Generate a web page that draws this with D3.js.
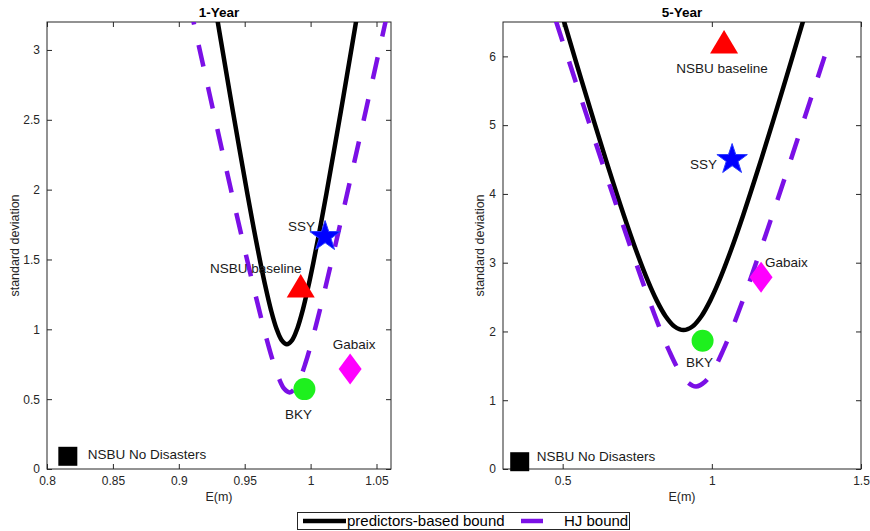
<!DOCTYPE html>
<html>
<head>
<meta charset="utf-8">
<script src="https://cdn.jsdelivr.net/npm/d3@7"></script>
<style>
  body { margin: 0; background: #fff; }
  svg { font-family: "Liberation Sans", Arial, sans-serif; }
</style>
</head>
<body>
<script>
// curves, as [E(m), standard deviation]
const predBound1Y = [
  [0.9275, 3.316], [0.932, 3.063], [0.939, 2.673], [0.946, 2.291], [0.952, 1.972], [0.957, 1.716],
  [0.962, 1.473], [0.966, 1.295], [0.970, 1.136], [0.974, 1.008], [0.978, 0.923], [0.982, 0.893],
  [0.986, 0.923], [0.990, 1.008], [0.994, 1.136], [0.998, 1.295], [1.002, 1.473], [1.007, 1.716],
  [1.012, 1.972], [1.018, 2.291], [1.025, 2.673], [1.032, 3.063], [1.0365, 3.316]
];
const hjBound1Y = [
  [0.908, 3.336], [0.913, 3.123], [0.923, 2.698], [0.933, 2.275], [0.942, 1.899], [0.950, 1.571],
  [0.957, 1.291], [0.963, 1.062], [0.968, 0.883], [0.972, 0.755], [0.976, 0.648], [0.980, 0.574],
  [0.984, 0.548], [0.988, 0.574], [0.992, 0.648], [0.996, 0.755], [1.000, 0.883], [1.005, 1.062],
  [1.011, 1.291], [1.018, 1.571], [1.026, 1.899], [1.035, 2.275], [1.045, 2.698], [1.055, 3.123],
  [1.060, 3.336]
];
const predBound5Y = [
  [0.485, 6.795], [0.545, 5.916], [0.605, 5.055], [0.655, 4.358], [0.705, 3.691], [0.745, 3.192],
  [0.785, 2.742], [0.815, 2.452], [0.845, 2.222], [0.875, 2.072], [0.905, 2.02], [0.935, 2.072],
  [0.965, 2.222], [0.995, 2.452], [1.025, 2.742], [1.065, 3.192], [1.105, 3.691], [1.155, 4.358],
  [1.205, 5.055], [1.265, 5.916], [1.325, 6.795]
];
const hjBound5Y = [
  [0.477, 6.521], [0.527, 5.852], [0.587, 5.055], [0.647, 4.264], [0.697, 3.615], [0.747, 2.98],
  [0.787, 2.49], [0.827, 2.029], [0.857, 1.717], [0.887, 1.452], [0.917, 1.268], [0.947, 1.2],
  [0.977, 1.268], [1.007, 1.452], [1.037, 1.717], [1.067, 2.029], [1.107, 2.49], [1.147, 2.98],
  [1.197, 3.615], [1.247, 4.264], [1.307, 5.055], [1.367, 5.852], [1.393, 6.2]
];

const modelNames = ['NSBU No Disasters', 'NSBU baseline', 'SSY', 'BKY', 'Gabaix'];
const modelShapes = ['square', 'triangle', 'star', 'circle', 'diamond'];
const modelColors = ['#000000', '#ff0000', '#0000ff', '#1ef01e', '#ff00ff'];
const models1Y = [[0.8158, 0.091], [0.9925, 1.31], [1.011, 1.664], [0.9953, 0.572], [1.030, 0.715]];
const models5Y = [[0.356, 0.106], [1.041, 6.21], [1.068, 4.50], [0.969, 1.864], [1.165, 2.79]];

const xTicks1Y = [0.8, 0.85, 0.9, 0.95, 1, 1.05];
const yTicks1Y = [0, 0.5, 1, 1.5, 2, 2.5, 3];
const xTicks5Y = [0.5, 1, 1.5];
const yTicks5Y = [0, 1, 2, 3, 4, 5, 6];

const legendNames = ['predictors-based bound', 'HJ bound'];

const width = 870, height = 531;
const axisColor = '#262626';
const hjColor = '#7b10e6';

const svg = d3.select('body').append('svg')
  .attr('width', width)
  .attr('height', height);

// label offsets from their marker (dx, dy, anchor) for each panel
const labelPos1Y = [[20, -2, 'start'], [-45, -18, 'middle'], [-10, -10, 'end'], [-6, 25, 'middle'], [4, -25, 'middle']];
const labelPos5Y = [[17, -5, 'start'], [-2, 26, 'middle'], [-15, 5, 'end'], [-3, 21, 'middle'], [4, -15, 'start']];

const panels = [
  { id: 'p1', title: '1-Year', x0: 47, x1: 391, xDom: [0.8, 1.061], yDom: [0, 3.2],
    xTicks: xTicks1Y, yTicks: yTicks1Y, pred: predBound1Y, hj: hjBound1Y,
    models: models1Y, labels: labelPos1Y, ylabX: 15 },
  { id: 'p2', title: '5-Year', x0: 503, x1: 861, xDom: [0.3, 1.5], yDom: [0, 6.5],
    xTicks: xTicks5Y, yTicks: yTicks5Y, pred: predBound5Y, hj: hjBound5Y,
    models: models5Y, labels: labelPos5Y, ylabX: 480 }
];
const plotTop = 22, plotBottom = 469;

const fmt = d => String(d);

function markerPath(shape) {
  if (shape === 'square') return 'M-9.5,-9.5H9.5V9.5H-9.5Z';
  if (shape === 'triangle') return 'M0,-12L14,11.5H-14Z';
  if (shape === 'diamond') return 'M0,-15.5L11.5,0L0,15.5L-11.5,0Z';
  if (shape === 'circle') return d3.symbol(d3.symbolCircle, Math.PI * 11 * 11)();
  // five point star
  const pts = [];
  for (let i = 0; i < 10; i++) {
    const r = i % 2 ? 6.2 : 16;
    const a = -Math.PI / 2 + i * Math.PI / 5;
    pts.push([r * Math.cos(a), r * Math.sin(a)]);
  }
  return 'M' + pts.map(p => p.join(',')).join('L') + 'Z';
}

panels.forEach(p => {
  const x = d3.scaleLinear().domain(p.xDom).range([p.x0, p.x1]);
  const y = d3.scaleLinear().domain(p.yDom).range([plotBottom, plotTop]);
  const g = svg.append('g');

  g.append('clipPath').attr('id', 'clip-' + p.id)
    .append('rect')
    .attr('x', p.x0).attr('y', plotTop)
    .attr('width', p.x1 - p.x0).attr('height', plotBottom - plotTop);

  // axes on all four sides, ticks pointing in
  const axB = g.append('g').attr('transform', `translate(0,${plotBottom})`)
    .call(d3.axisBottom(x).tickValues(p.xTicks).tickFormat(fmt).tickSizeInner(-5).tickSizeOuter(0).tickPadding(7));
  const axT = g.append('g').attr('transform', `translate(0,${plotTop})`)
    .call(d3.axisTop(x).tickValues(p.xTicks).tickFormat('').tickSizeInner(-5).tickSizeOuter(0));
  const axL = g.append('g').attr('transform', `translate(${p.x0},0)`)
    .call(d3.axisLeft(y).tickValues(p.yTicks).tickFormat(fmt).tickSizeInner(-5).tickSizeOuter(0).tickPadding(7));
  const axR = g.append('g').attr('transform', `translate(${p.x1},0)`)
    .call(d3.axisRight(y).tickValues(p.yTicks).tickFormat('').tickSizeInner(-5).tickSizeOuter(0));
  [axB, axT, axL, axR].forEach(a => {
    a.select('.domain').remove();
    a.selectAll('line').attr('stroke', axisColor);
    a.selectAll('text').attr('fill', axisColor).style('font-size', '12px');
  });
  g.append('rect')
    .attr('x', p.x0).attr('y', plotTop)
    .attr('width', p.x1 - p.x0).attr('height', plotBottom - plotTop)
    .attr('fill', 'none').attr('stroke', axisColor).attr('stroke-width', 1);

  const line = d3.line()
    .x(d => x(d[0]))
    .y(d => y(d[1]))
    .curve(d3.curveCatmullRom.alpha(0.5));

  const curves = g.append('g').attr('clip-path', `url(#clip-${p.id})`);
  curves.append('path')
    .attr('d', line(p.pred))
    .attr('fill', 'none')
    .attr('stroke', '#000')
    .attr('stroke-width', 4.5);
  curves.append('path')
    .attr('d', line(p.hj))
    .attr('fill', 'none')
    .attr('stroke', hjColor)
    .attr('stroke-width', 4.5)
    .attr('stroke-dasharray', '22,21');

  // model markers and their names
  g.selectAll('path.mk')
    .data(p.models)
    .join('path')
    .attr('class', 'mk')
    .attr('transform', d => `translate(${x(d[0])},${y(d[1])})`)
    .attr('d', (d, i) => markerPath(modelShapes[i]))
    .attr('fill', (d, i) => modelColors[i])
    .attr('stroke', (d, i) => i === 2 ? '#2a3cff' : 'none')
    .attr('stroke-width', 1);

  g.selectAll('text.lbl')
    .data(p.models)
    .join('text')
    .attr('class', 'lbl')
    .attr('x', (d, i) => x(d[0]) + p.labels[i][0])
    .attr('y', (d, i) => y(d[1]) + p.labels[i][1])
    .attr('dy', '0.35em')
    .attr('text-anchor', (d, i) => p.labels[i][2])
    .attr('fill', '#1a1a1a')
    .style('font-size', '13.5px')
    .text((d, i) => modelNames[i]);

  g.append('text')
    .attr('x', (p.x0 + p.x1) / 2).attr('y', 17)
    .attr('text-anchor', 'middle')
    .style('font-size', '13.5px').style('font-weight', 'bold')
    .attr('fill', '#000')
    .text(p.title);

  g.append('text')
    .attr('x', (p.x0 + p.x1) / 2).attr('y', 501)
    .attr('text-anchor', 'middle')
    .style('font-size', '12.5px')
    .attr('fill', axisColor)
    .text('E(m)');

  g.append('text')
    .attr('transform', `translate(${p.ylabX},${(plotTop + plotBottom) / 2}) rotate(-90)`)
    .attr('dy', '0.35em')
    .attr('text-anchor', 'middle')
    .style('font-size', '12.5px')
    .attr('fill', axisColor)
    .text('standard deviation');
});

// legend below the panels
const leg = svg.append('g');
leg.append('rect')
  .attr('x', 297.5).attr('y', 512.5)
  .attr('width', 332).attr('height', 17)
  .attr('fill', '#fff').attr('stroke', axisColor).attr('stroke-width', 1);
const legItems = [
  { x1: 303, x2: 346, tx: 347, color: '#000', w: 4.5 },
  { x1: 521, x2: 543, tx: 564, color: hjColor, w: 4.5 }
];
legItems.forEach((it, i) => {
  leg.append('line')
    .attr('x1', it.x1).attr('x2', it.x2)
    .attr('y1', 521).attr('y2', 521)
    .attr('stroke', it.color).attr('stroke-width', it.w);
  leg.append('text')
    .attr('x', it.tx).attr('y', 521)
    .attr('dy', '0.35em')
    .style('font-size', '15px')
    .attr('fill', '#000')
    .text(legendNames[i]);
});
</script>
</body>
</html>
